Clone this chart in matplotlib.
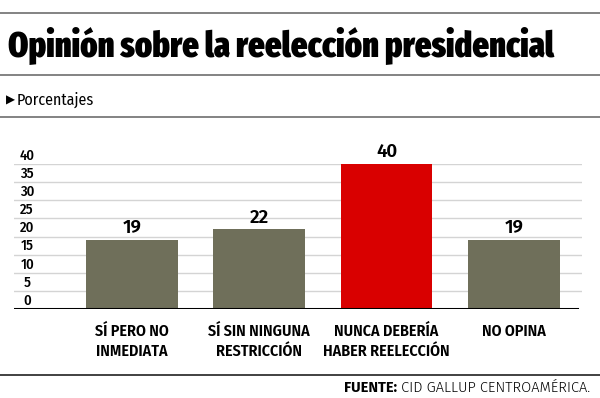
import matplotlib
matplotlib.use("Agg")
import matplotlib.pyplot as plt
from matplotlib import font_manager as fm
from matplotlib.lines import Line2D

# =================== Data ===================
categories = ["SÍ PERO NO\nINMEDIATA", "SÍ SIN NINGUNA\nRESTRICCIÓN",
              "NUNCA DEBERÍA\nHABER REELECCIÓN", "NO OPINA"]
values = [19, 22, 40, 19]
bar_colors = ["#6f6f5a", "#6f6f5a", "#d90000", "#6f6f5a"]
y_ticks = [0, 5, 10, 15, 20, 25, 30, 35, 40]

title = "Opinión sobre la reelección presidencial"
subtitle = "Porcentajes"
source_bold = "FUENTE:"
source_text = " CID GALLUP CENTROAMÉRICA."

# =================== Fonts ===================
installed = {f.name for f in fm.fontManager.ttflist}

def pick(prefs):
    for p in prefs:
        if p in installed:
            return [p, "DejaVu Sans"]
    return ["DejaVu Sans"]

cond = pick(["Fira Sans Condensed", "Roboto Condensed", "Archivo Narrow",
             "Liberation Sans Narrow"])
heavy = pick(["Fira Sans Extra Condensed", "Fira Sans Condensed",
              "Roboto Condensed", "Archivo Narrow"])
plain = pick(["Fira Sans", "Open Sans", "Noto Sans"])

# =================== Figure ===================
W, H = 600, 398
fig = plt.figure(figsize=(W / 100, H / 100), dpi=100)
fig.patch.set_facecolor("white")

def px(x, y):
    return x / W, 1 - y / H

# horizontal rules
for yy, col in [(13, "#7a7a7a"), (75, "#7a7a7a"), (117, "#7a7a7a"), (375, "#333333")]:
    fig.add_artist(Line2D([0, 1], [1 - yy / H] * 2, color=col, lw=1.3,
                          transform=fig.transFigure))

tt = fig.text(*px(8, 45), title, fontsize=25, fontweight=900, family=heavy,
              ha="left", va="center")
fig.canvas.draw()
w = tt.get_window_extent().width
tt.set_fontsize(25 * 545 / w)

fig.text(*px(6, 100), "▶", fontsize=8.5, family="DejaVu Sans", ha="left", va="center")
fig.text(*px(17, 100), subtitle, fontsize=11.5, fontweight=400, family=cond,
         ha="left", va="center")

# source line
t1 = fig.text(*px(590, 388), source_text, fontsize=10.5, fontweight=300,
              family=plain, ha="right", va="center")
fig.canvas.draw()
bb = t1.get_window_extent()
fig.text(bb.x0 / W, 1 - 388 / H, source_bold, fontsize=10.5, fontweight="bold",
         family=plain, ha="right", va="center")

# =================== Axes ===================
left, right = 14, 582
top, bottom = 164, 309
ax = fig.add_axes([left / W, 1 - bottom / H, (right - left) / W, (bottom - top) / H])
ax.set_facecolor("none")
step = 127.33
x0 = (left - 132) / step
x1 = (right - 132) / step
ax.set_xlim(x0, x1)
ax.set_ylim(0, 40)

for t in y_ticks[1:]:
    ax.axhline(t, color="#d4d4d4", lw=1.0, zorder=0)
ax.axhline(0, xmin=0, xmax=(577 - left) / (right - left), color="black",
           lw=2.2, zorder=3)

xs = list(range(len(values)))
ax.bar(xs, values, width=0.72, color=bar_colors, zorder=2)

for x, v in zip(xs, values):
    ax.annotate(str(v), (x, v), xytext=(0, 8.5), textcoords="offset points",
                ha="center", va="center", fontsize=13.5, fontweight=600,
                family=plain)

for t in y_ticks:
    ax.annotate(str(t), (x0, t), xytext=(9.5, 6), textcoords="offset points",
                ha="center", va="center", fontsize=10.5, fontweight=500,
                family=cond, annotation_clip=False)

# category labels, one line at a time so single-line labels sit on the top row
for x, lab in zip(xs, categories):
    for i, line in enumerate(lab.split("\n")):
        ax.annotate(line, (x, 0), xytext=(0, -22 - 20 * i), textcoords="offset pixels",
                    ha="center", va="center", fontsize=11.5, fontweight=600,
                    family=cond, annotation_clip=False)

ax.set_xticks([])
ax.set_yticks([])
for s in ax.spines.values():
    s.set_visible(False)

fig.savefig("out.png", dpi=100)
